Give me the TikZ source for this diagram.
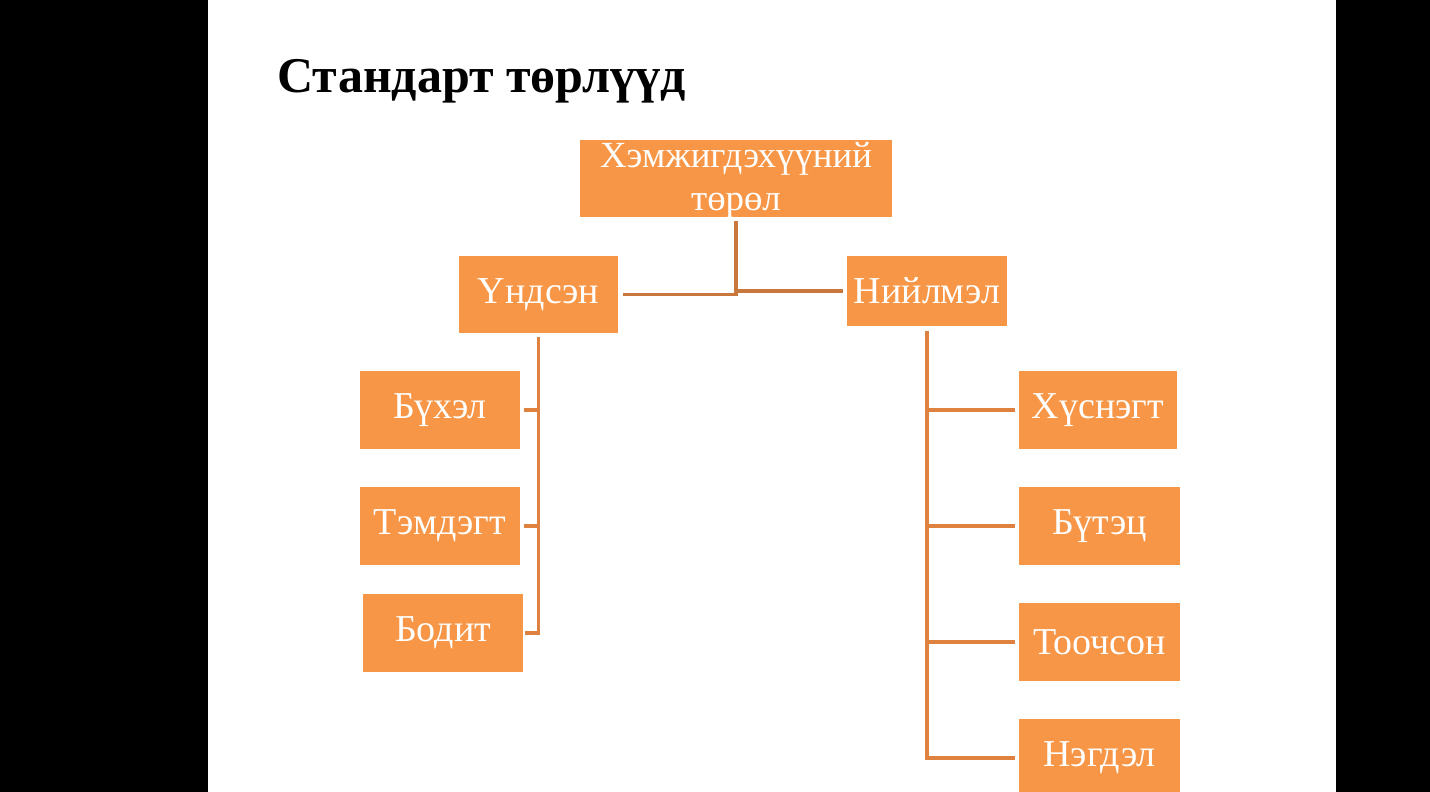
\documentclass[tikz,border=0pt]{standalone}
\usepackage{fontspec}
\setmainfont{Liberation Serif}
\usetikzlibrary{calc}
\definecolor{boxfill}{HTML}{F79646}
\definecolor{topline}{HTML}{C8773D}
\definecolor{subline}{HTML}{E0823F}
\tikzset{
  box/.style={fill=boxfill,text=white,inner sep=0pt,align=center,font=\fontsize{19}{22}\selectfont},
  link/.style={line width=1.6pt,draw=subline}
}
\begin{document}
\begin{tikzpicture}[x=0.5pt,y=-0.5pt]
\useasboundingbox (0,0) rectangle (1430,792);
\clip (0,0) rectangle (1430,792);
\fill[white] (208,0) rectangle (1336,792);
\fill[black] (0,0) rectangle (208,792); \fill[black] (1336,0) rectangle (1430,792);
\node[anchor=base west,inner sep=0pt,font=\fontsize{25}{28}\selectfont\bfseries] (title) at (277,93) {Стандарт төрлүүд};
% top level
\node[box,minimum width=156pt,minimum height=38.5pt,font=\fontsize{18.4}{21}\selectfont] (turul) at (736,178.5) {\raisebox{0pt}[14pt][0pt]{Хэмжигдэхүүний}\\\raisebox{0pt}[0pt][3.5pt]{төрөл}};
\node[box,minimum width=79.5pt,minimum height=38.5pt] (undsen) at (538.5,294.5) {Үндсэн};
\node[box,minimum width=80pt,minimum height=35pt] (niilmel) at (927,291) {Нийлмэл};
% left branch
\node[box,minimum width=80pt,minimum height=39pt] (bukhel) at (440,410) {Бүхэл};
\node[box,minimum width=80pt,minimum height=39pt] (temdegt) at (440,526) {Тэмдэгт};
\node[box,minimum width=80pt,minimum height=39pt] (bodit) at (443,633) {Бодит};
% right branch
\node[box,minimum width=79pt,minimum height=39pt] (khusnegt) at (1098,410) {Хүснэгт};
\node[box,minimum width=80.5pt,minimum height=39pt] (butets) at (1099.5,526) {Бүтэц};
\node[box,minimum width=80.5pt,minimum height=39pt] (toochson) at (1099.5,642) {Тоочсон};
\node[box,minimum width=80.5pt,minimum height=39pt] (negdel) at (1099.5,758) {Нэгдэл};
\draw[link,topline] ([yshift=-2pt]turul.south) |- ([xshift=2.5pt]undsen.east);
\draw[link,topline] ([yshift=-2pt]turul.south) |- ([xshift=-2pt]niilmel.west);
\draw[link] ([yshift=-2pt]undsen.south) |- ([xshift=1pt]bodit.east);
\draw[link] ([xshift=2pt]bukhel.east) -- (bukhel.east -| undsen.south);
\draw[link] ([xshift=2pt]temdegt.east) -- (temdegt.east -| undsen.south);
\draw[link] ([yshift=-2.5pt]niilmel.south) |- ([xshift=-2pt]negdel.west);
\draw[link] ([xshift=-2pt]khusnegt.west) -- (khusnegt.west -| niilmel.south);
\draw[link] ([xshift=-2pt]butets.west) -- (butets.west -| niilmel.south);
\draw[link] ([xshift=-2pt]toochson.west) -- (toochson.west -| niilmel.south);
\end{tikzpicture}
\end{document}
